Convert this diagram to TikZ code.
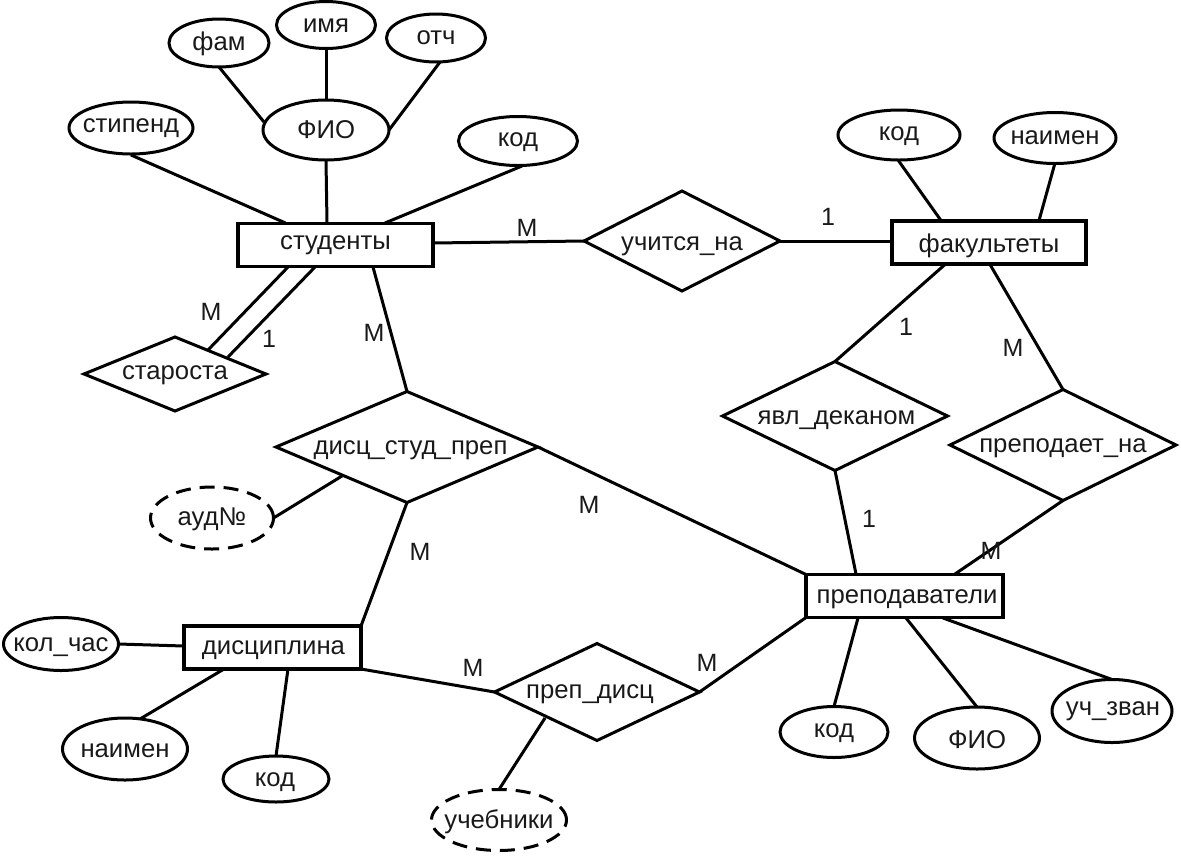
\documentclass[tikz,border=0pt]{standalone}
\usepackage{fontspec}
\setmainfont{Liberation Sans}
\usetikzlibrary{shapes.geometric}
% text of a node: zero width, so that it does not widen the shape; #1, #2 = nudge right, down
\newcommand\tx[3][0]{\makebox[0pt]{\hspace*{\dimexpr2\dimexpr#1pt\relax\relax}\raisebox{-#2pt}[\height][\depth]{#3}}}
\tikzset{
  x=1pt,y=-1pt,
  every node/.style={font=\fontsize{25.7}{30}\selectfont,text=black!90,inner sep=0pt,outer sep=0pt},
  ent/.style={draw,line width=3.6pt,rectangle,minimum width=#1,minimum height=43pt},
  attr/.style n args={2}{draw,line width=3pt,ellipse,minimum width=#1,minimum height=#2},
  dattr/.style n args={2}{draw,line width=3pt,ellipse,minimum width=#1,minimum height=#2,dash pattern=on 15pt off 9pt},
  rel/.style n args={2}{draw,line width=3pt,diamond,minimum width=#1,minimum height=#2,aspect=2},
  link/.style={line width=3pt},
  card/.style={font=\fontsize{25}{30}\selectfont},
}
\begin{document}
\begin{tikzpicture}
\useasboundingbox (0,0) rectangle (1181,855);
% entities
\node[ent=195pt] (stud) at (335.5,245) {\tx{0}{студенты}};
\node[ent=194pt] (fak) at (989,242.5) {\tx{3}{факультеты}};
\node[ent=197pt] (prep) at (904.5,596) {\tx[2.5]{3}{преподаватели}};
\node[ent=177pt] (disc) at (272.5,647.5) {\tx[1]{3}{дисциплина}};
% attributes
\node[attr={100pt}{48pt}] (fam) at (219,43) {\tx{1}{фам}};
\node[attr={99pt}{47pt}] (imya) at (326,25) {\tx{1}{имя}};
\node[attr={99pt}{48pt}] (otch) at (436,38) {\tx{0}{отч}};
\node[attr={124pt}{52pt}] (stip) at (131,128) {\tx{0}{стипенд}};
\node[attr={126pt}{60pt}] (fio) at (326,130) {\tx{0}{ФИО}};
\node[attr={119pt}{49pt}] (kod1) at (518,141) {\tx{1}{код}};
\node[attr={122pt}{50pt}] (kod2) at (899,135) {\tx{1}{код}};
\node[attr={122pt}{51pt}] (naim1) at (1055,138) {\tx{0}{наимен}};
\node[attr={108pt}{51pt}] (kod3) at (834,732) {\tx{1}{код}};
\node[attr={125pt}{62pt}] (fio2) at (977,738) {\tx{2}{ФИО}};
\node[attr={120pt}{63pt}] (uch) at (1112,711) {\tx[1]{0}{уч\_зван}};
\node[attr={115pt}{53pt}] (kol) at (61,644) {\tx{3}{кол\_час}};
\node[attr={125pt}{62pt}] (naim2) at (125,749) {\tx{2}{наимен}};
\node[attr={106pt}{46pt}] (kod4) at (276,779) {\tx[-1]{3}{код}};
\node[dattr={123pt}{62pt}] (aud) at (212,518) {\tx{1}{ауд№}};
\node[dattr={135pt}{61pt}] (ucheb) at (499,820) {\tx{2}{учебники}};
% relations
\node[rel={182pt}{74pt}] (star) at (175,374) {\tx{1}{староста}};
\node[rel={262pt}{111pt}] (dsp) at (407,447) {\tx[3.5]{3.5}{дисц\_студ\_преп}};
\node[rel={196pt}{100pt}] (ucit) at (682,241) {\tx{5}{учится\_на}};
\node[rel={225pt}{109pt}] (yavl) at (835,416) {\tx[1.5]{4}{явл\_деканом}};
\node[rel={226pt}{111pt}] (pna) at (1063,445) {\tx{3.5}{преподает\_на}};
\node[rel={205pt}{97pt}] (pd) at (597,692) {\tx[-7]{2}{преп\_дисц}};
% connectors
\begin{scope}[link]
\draw ([shift={(0,27)}]stip.center) -- ([shift={(-50,-22)}]stud.center);
\draw (fio.south) -- ([shift={(-8.5,-22)}]stud.center);
\draw ([shift={(4,25)}]kod1.center) -- ([shift={(49.5,-22)}]stud.center);
\draw ([shift={(0,24)}]fam.center) -- ([shift={(-62,-8)}]fio.center);
\draw (imya.south) -- (fio.north);
\draw ([shift={(4,24)}]otch.center) -- (fio.east);
\draw ([shift={(97.5,-2)}]stud.center) -- (ucit.west);
\draw (ucit.east) -- ([shift={(-97,-1.5)}]fak.center);
\draw ([shift={(-1,25)}]kod2.center) -- ([shift={(-48,-22)}]fak.center);
\draw ([shift={(0,25)}]naim1.center) -- ([shift={(50,-22)}]fak.center);
\draw ([shift={(-44,22)}]fak.center) -- (yavl.north);
\draw ([shift={(1,22)}]fak.center) -- (pna.north);
\draw (yavl.south) -- ([shift={(-48.5,-22)}]prep.center);
\draw (pna.south) -- ([shift={(50.5,-22)}]prep.center);
\draw ([shift={(-47.5,22)}]stud.center) -- ([shift={(33,-24)}]star.center);
\draw ([shift={(-20.5,22)}]stud.center) -- ([shift={(53,-17)}]star.center);
\draw ([shift={(37.5,22)}]stud.center) -- (dsp.north);
\draw ([shift={(-65,29)}]dsp.center) -- (aud.east);
\draw (dsp.south) -- ([shift={(88.5,-21.5)}]disc.center);
\draw (dsp.east) -- (prep.north west);
\draw ([shift={(-88.5,-1.5)}]disc.center) -- (kol.east);
\draw ([shift={(-48.5,21.5)}]disc.center) -- ([shift={(15,-30)}]naim2.center);
\draw ([shift={(15.5,21.5)}]disc.center) -- (kod4.north);
\draw (disc.south east) -- (pd.west);
\draw (pd.east) -- (prep.south west);
\draw ([shift={(-52,26)}]pd.center) -- (ucheb.north);
\draw ([shift={(-46.5,22)}]prep.center) -- (kod3.north);
\draw ([shift={(1.5,22)}]prep.center) -- (fio2.north);
\draw ([shift={(38.5,22)}]prep.center) -- (uch.north);
\end{scope}
% cardinalities
\node[card] (c1) at (527,228) {М};
\node[card] (c2) at (828,217) {1};
\node[card] (c3) at (211,312) {М};
\node[card] (c4) at (269,339) {1};
\node[card] (c5) at (374,333) {М};
\node[card] (c6) at (906,327) {1};
\node[card] (c7) at (1013,348) {М};
\node[card] (c8) at (869,519) {1};
\node[card] (c9) at (991,551) {М};
\node[card] (c10) at (589,505) {М};
\node[card] (c11) at (420,552) {М};
\node[card] (c12) at (473,668) {М};
\node[card] (c13) at (707,663) {М};
\end{tikzpicture}
\end{document}
